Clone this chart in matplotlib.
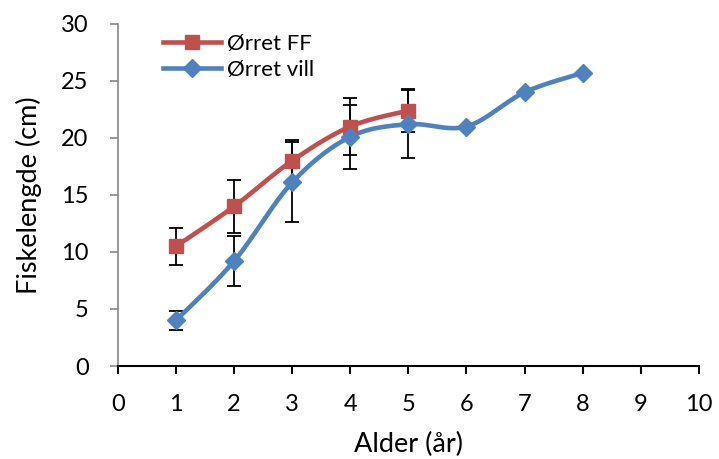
import numpy as np
import matplotlib.pyplot as plt

# alder (år) og fiskelengde (cm)
alder_ff = [1, 2, 3, 4, 5]
lengde_ff = [10.5, 14.0, 18.0, 21.0, 22.4]
feil_ff = [1.6, 2.35, 1.8, 2.5, 1.9]

alder_vill = [1, 2, 3, 4, 5, 6, 7, 8]
lengde_vill = [4.0, 9.2, 16.1, 20.1, 21.2, 21.0, 24.0, 25.7]
feil_vill = [0.8, 2.2, 3.5, 2.8, 3.0]

RED = "#C0504D"
BLUE = "#4F81BD"


def smooth(x, y, n=30):
    # Catmull-Rom style bezier through the points (like Excel's smoothed line)
    x = np.asarray(x, float)
    y = np.asarray(y, float)
    p = np.column_stack([x, y])
    pts = [p[0]]
    for i in range(len(p) - 1):
        p0 = p[i - 1] if i > 0 else p[i]
        p1, p2 = p[i], p[i + 1]
        p3 = p[i + 2] if i + 2 < len(p) else p[i + 1]
        c1 = p1 + (p2 - p0) / 6
        c2 = p2 - (p3 - p1) / 6
        t = np.linspace(0, 1, n)[1:, None]
        seg = ((1 - t) ** 3 * p1 + 3 * (1 - t) ** 2 * t * c1
               + 3 * (1 - t) * t ** 2 * c2 + t ** 3 * p2)
        pts.extend(seg)
    pts = np.array(pts)
    return pts[:, 0], pts[:, 1]


plt.rcParams['font.family'] = ['Lato', 'DejaVu Sans']
FS = 17

fig = plt.figure(figsize=(7.19, 4.59), dpi=100)
ax = fig.add_axes([0.164, 0.2026, 0.808, 0.7454])

ax.errorbar(alder_ff, lengde_ff, yerr=feil_ff, fmt="none", ecolor="black",
            elinewidth=1.3, capsize=5, capthick=1.3, zorder=2)
ax.errorbar(alder_vill[:5], lengde_vill[:5], yerr=feil_vill, fmt="none",
            ecolor="black", elinewidth=1.3, capsize=5, capthick=1.3, zorder=2)

sx, sy = smooth(alder_ff, lengde_ff)
ax.plot(sx, sy, color=RED, lw=3.3, zorder=3, solid_capstyle="round")
ax.plot(alder_ff, lengde_ff, ls="none", marker="s", ms=10, color=RED, zorder=4)

sx, sy = smooth(alder_vill, lengde_vill)
ax.plot(sx, sy, color=BLUE, lw=3.3, zorder=3, solid_capstyle="round")
ax.plot(alder_vill, lengde_vill, ls="none", marker="D", ms=9.5, color=BLUE, zorder=4)

# legend handles
h_ff, = ax.plot([], [], color=RED, lw=3.3, marker="s", ms=10)
h_vill, = ax.plot([], [], color=BLUE, lw=3.3, marker="D", ms=9.5)
leg = ax.legend([h_ff, h_vill], ["Ørret FF", "Ørret vill"], loc="upper left",
                bbox_to_anchor=(0.043, 1.03), frameon=False, fontsize=16,
                handlelength=2.6, handletextpad=0.3, labelspacing=0.3)

ax.set_xlim(0, 10)
ax.set_ylim(0, 30)
ax.set_xticks(range(0, 11))
ax.set_yticks(range(0, 31, 5))

for s in ["top", "right"]:
    ax.spines[s].set_visible(False)
ax.spines["left"].set_color("#868686")
ax.spines["left"].set_linewidth(1.2)
ax.spines["bottom"].set_color("black")
ax.spines["bottom"].set_linewidth(1.5)

ax.tick_params(axis="y", direction="out", length=6, width=1.2, color="#868686",
               labelsize=FS, pad=15)
ax.tick_params(axis="x", direction="out", length=6, width=1.5, color="black",
               labelsize=FS, pad=14)

ax.set_xlabel("Alder (år)", fontsize=19.5, labelpad=12)
ax.set_ylabel("Fiskelengde (cm)", fontsize=19.5, labelpad=14)

fig.savefig("out.png", dpi=100)
